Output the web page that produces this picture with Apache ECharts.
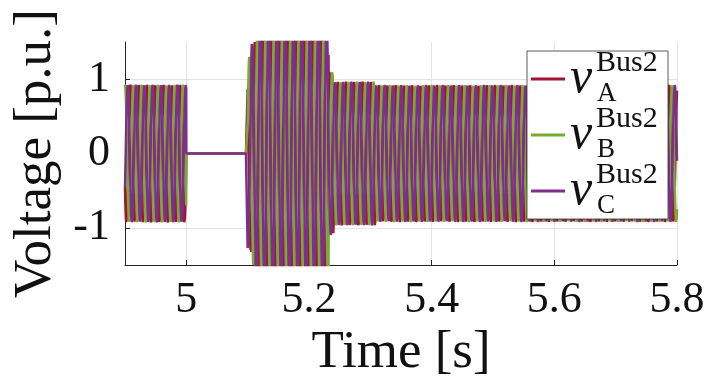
<!DOCTYPE html>
<html>
<head>
<meta charset="utf-8">
<script src="https://cdn.jsdelivr.net/npm/echarts@6/dist/echarts.min.js"></script>
<style>
  html, body { margin: 0; padding: 0; background: #fff; }
  #chart { width: 708px; height: 387px; }
</style>
</head>
<body>
<div id="chart"></div>
<script>
// Bus 2 three-phase voltage through a fault and recovery
const timeStart = 4.9;
const timeEnd = 5.8;
const sampleStep = 0.0002;          // s
const waveFreq = 74;                // Hz, waveform frequency

// Amplitude envelope (p.u.), one value per time segment
const segStart = [4.9, 5.0, 5.1,   5.106, 5.113, 5.232, 5.24, 5.308];
const segEnd   = [5.0, 5.1, 5.106, 5.113, 5.232, 5.24,  5.308, 5.8];
const segAmp   = [0.93, 0, 1.3,   1.5,   1.75,  1.1,   0.97, 0.925];

// Phase angles of the three phases (deg)
const phaseNames = ['A', 'B', 'C'];
const phaseAngle = [120, 0, -120];
const phaseColors = ['#A2142F', '#77AC30', '#7E2F8E'];

const xTickValues = [5, 5.2, 5.4, 5.6, 5.8];
const yTickValues = [-1, 0, 1];

function amplitudeAt(t) {
  for (let i = 0; i < segStart.length; i++) {
    if (t >= segStart[i] - 1e-9 && t < segEnd[i] - 1e-9) return segAmp[i];
  }
  return segAmp[segAmp.length - 1];
}

function buildPhase(k) {
  const pts = [];
  const n = Math.round((timeEnd - timeStart) / sampleStep);
  for (let i = 0; i <= n; i++) {
    const t = timeStart + i * sampleStep;
    const w = 2 * Math.PI * waveFreq * (t - timeStart) + phaseAngle[k] * Math.PI / 180;
    pts.push([t, amplitudeAt(t) * Math.cos(w)]);
  }
  return pts;
}

const serif = '"Liberation Serif", "DejaVu Serif", serif';
const textColor = '#111';

// Legend geometry (px)
const legendLeft = 527, legendTop = 51, legendPadTop = 3, legendItemH = 50, legendGap = 6;
const legendTextX = 596;

// superscript "Bus2" and phase subscript next to each legend "v"
const legendScripts = [];
phaseNames.forEach((nm, k) => {
  const cy = legendTop + legendPadTop + legendItemH / 2 + k * (legendItemH + legendGap);
  legendScripts.push({
    type: 'text', z: 100, left: legendTextX, top: cy - 31,
    style: { text: 'Bus2', fontFamily: serif, fontSize: 30, fill: textColor, textVerticalAlign: 'top' }
  });
  legendScripts.push({
    type: 'text', z: 100, left: legendTextX + 1, top: cy + 1,
    style: { text: nm, fontFamily: serif, fontSize: 27, fill: textColor, textVerticalAlign: 'top' }
  });
});

const chart = echarts.init(document.getElementById('chart'), null, { renderer: 'canvas' });

chart.setOption({
  animation: false,
  backgroundColor: '#fff',
  grid: { left: 125, right: 31, top: 42, bottom: 122, containLabel: false },
  xAxis: {
    type: 'value',
    min: timeStart,
    max: timeEnd,
    name: 'Time [s]',
    nameLocation: 'middle',
    nameGap: 57,
    nameTextStyle: { fontFamily: serif, fontSize: 53, color: textColor },
    axisLine: { show: true, onZero: false, lineStyle: { color: '#262626', width: 1 } },
    axisTick: { show: true, inside: true, length: 5, customValues: xTickValues, lineStyle: { color: '#262626' } },
    axisLabel: {
      customValues: xTickValues,
      margin: 13,
      fontFamily: serif, fontSize: 44, color: textColor,
      formatter: v => String(+v.toFixed(1))
    },
    splitLine: { show: true, lineStyle: { color: '#e3e3e3', width: 1 } }
  },
  yAxis: {
    type: 'value',
    min: -1.5,
    max: 1.5,
    name: 'Voltage [p.u.]',
    nameLocation: 'middle',
    nameGap: 57,
    nameTextStyle: { fontFamily: serif, fontSize: 53, color: textColor },
    axisLine: { show: true, onZero: false, lineStyle: { color: '#262626', width: 1 } },
    axisTick: { show: true, inside: true, length: 5, customValues: yTickValues, lineStyle: { color: '#262626' } },
    axisLabel: {
      customValues: yTickValues,
      margin: 15,
      fontFamily: serif, fontSize: 44, color: textColor,
      formatter: v => (v < 0 ? '-' + Math.abs(v) : String(v))
    },
    splitLine: { show: true, lineStyle: { color: '#e3e3e3', width: 1 } }
  },
  legend: {
    z: 10,
    orient: 'vertical',
    left: legendLeft,
    top: legendTop,
    padding: [legendPadTop, 10, 3, 4],
    itemGap: legendGap,
    itemWidth: 34,
    itemHeight: 3,
    itemTextGap: 3,
    icon: 'rect',
    backgroundColor: '#fff',
    borderColor: '#333',
    borderWidth: 0.8,
    formatter: () => '{v|v}',
    textStyle: {
      rich: {
        v: { fontFamily: serif, fontStyle: 'italic', fontSize: 50, lineHeight: legendItemH, width: 88, color: textColor }
      }
    }
  },
  graphic: legendScripts,
  series: phaseNames.map((nm, k) => ({
    name: nm,
    type: 'line',
    data: buildPhase(k),
    symbol: 'none',
    showSymbol: false,
    clip: true,
    lineStyle: { color: phaseColors[k], width: 2.5 },
    itemStyle: { color: phaseColors[k] }
  }))
});
</script>
</body>
</html>
